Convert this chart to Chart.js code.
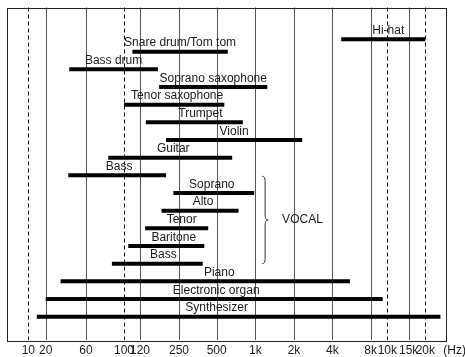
<!DOCTYPE html>
<html>
<head>
<meta charset="utf-8">
<script src="https://cdn.jsdelivr.net/npm/chart.js@4/dist/chart.umd.min.js"></script>
<style>
html, body { margin: 0; padding: 0; background: #fff; }
</style>
</head>
<body>
<canvas id="c" width="465" height="357"></canvas>
<script>
// data: frequency range of each instrument, in Hz
const instruments = [
    "Hi-hat", "Snare drum/Tom tom", "Bass drum", "Soprano saxophone", "Tenor saxophone",
    "Trumpet", "Violin", "Guitar", "Bass", "Soprano", "Alto", "Tenor", "Baritone", "Bass",
    "Piano", "Electronic organ", "Synthesizer"
];
const lowHz  = [4700, 110, 38, 172, 100, 134, 196, 81, 37, 225, 180, 132, 105, 85, 30, 20, 14];
const highHz = [20000, 610, 168, 1240, 573, 800, 2320, 660, 196, 980, 740, 428, 398, 387, 5500, 9400, 26000];
const vocalParts = ["Soprano", "Alto", "Tenor", "Baritone", "Bass"];
const tickHz = [10, 20, 60, 100, 120, 250, 500, 1000, 2000, 4000, 8000, 10000, 15000, 20000];
const tickLabels = ["10", "20", "60", "100", "120", "250", "500", "1k", "2k", "4k", "8k", "10k", "15k", "20k"];
const dashedHz = [10, 100, 10000, 20000];

// layout: the axis is not a true log scale, each tick has its own slot
const tickPos = [21, 38.4, 78.7, 116.7, 132.7, 171.7, 209.4, 248, 286.7, 325, 363.4, 380, 401.4, 418];
const AXIS_MAX = 439.4;
const rowY = instruments.map((n, i) => i === 0 ? 0.3 : i);
const labelShift = [5, 0, 0, 0, 3, 6, 0, 3, 2, -2, 3, 5, 7.5, 6, 14, 2, -22];
const FAMILY = "'Liberation Sans', Arial, Helvetica, sans-serif";
const FONT = "12px " + FAMILY;

// frequency -> axis position, log interpolation between neighbouring ticks
function hzToPos(hz) {
    let i = 0;
    while (i < tickHz.length - 2 && hz > tickHz[i + 1]) i++;
    const f1 = tickHz[i], f2 = tickHz[i + 1];
    const t = Math.log(hz / f1) / Math.log(f2 / f1);
    return tickPos[i] + t * (tickPos[i + 1] - tickPos[i]);
}

const datasets = instruments.map((name, i) => ({
    label: name,
    data: [
        { x: hzToPos(lowHz[i]), y: rowY[i] },
        { x: hzToPos(highHz[i]), y: rowY[i] }
    ],
    borderColor: "#000",
    borderWidth: 4,
    borderCapStyle: "butt",
    pointRadius: 0,
    fill: false
}));

const gridPlugin = {
    id: "grid",
    beforeDatasetsDraw(chart) {
        const ctx = chart.ctx;
        const area = chart.chartArea;
        const xs = chart.scales.x;
        ctx.save();
        tickHz.forEach((hz, i) => {
            const x = Math.round(xs.getPixelForValue(tickPos[i])) + 0.5;
            const dashed = dashedHz.includes(hz);
            ctx.beginPath();
            ctx.setLineDash(dashed ? [4, 3] : []);
            ctx.strokeStyle = dashed ? "#111" : "#555";
            ctx.lineWidth = 1;
            ctx.moveTo(x, area.top);
            ctx.lineTo(x, area.bottom);
            ctx.stroke();
        });
        ctx.setLineDash([]);
        ctx.strokeStyle = "#222";
        ctx.strokeRect(Math.round(area.left) + 0.5, Math.round(area.top) + 0.5,
            Math.round(area.right - area.left), Math.round(area.bottom - area.top));
        ctx.restore();
    },
    afterDatasetsDraw(chart) {
        const ctx = chart.ctx;
        const xs = chart.scales.x;
        const ys = chart.scales.y;
        ctx.save();
        ctx.font = FONT;
        ctx.fillStyle = "#1a1a1a";
        ctx.textAlign = "center";
        ctx.textBaseline = "alphabetic";
        instruments.forEach((name, i) => {
            const x1 = xs.getPixelForValue(hzToPos(lowHz[i]));
            const x2 = xs.getPixelForValue(hzToPos(highHz[i]));
            const y = ys.getPixelForValue(rowY[i]);
            ctx.fillText(name, (x1 + x2) / 2 + labelShift[i], y - 5.5);
        });

        // brace grouping the vocal parts
        const first = instruments.indexOf(vocalParts[0]);
        const last = instruments.lastIndexOf(vocalParts[vocalParts.length - 1]);
        const top = ys.getPixelForValue(rowY[first] - 0.95);
        const bottom = ys.getPixelForValue(rowY[last]);
        const mid = (top + bottom) / 2;
        const bx = xs.getPixelForValue(hzToPos(1130));
        ctx.beginPath();
        ctx.strokeStyle = "#333";
        ctx.lineWidth = 1;
        ctx.moveTo(bx, top);
        ctx.quadraticCurveTo(bx + 3, top, bx + 3, top + 5);
        ctx.lineTo(bx + 3, mid - 5);
        ctx.quadraticCurveTo(bx + 3, mid, bx + 6, mid);
        ctx.quadraticCurveTo(bx + 3, mid, bx + 3, mid + 5);
        ctx.lineTo(bx + 3, bottom - 5);
        ctx.quadraticCurveTo(bx + 3, bottom, bx, bottom);
        ctx.stroke();
        ctx.textAlign = "left";
        ctx.textBaseline = "middle";
        ctx.fillText("VOCAL", bx + 20, mid);

        // unit after the last tick label
        const lastX = xs.getPixelForValue(tickPos[tickPos.length - 1]);
        ctx.fillText("(Hz)", lastX + 18, chart.chartArea.bottom + 11);
        ctx.restore();
    }
};

new Chart(document.getElementById("c"), {
    type: "line",
    data: { datasets: datasets },
    options: {
        responsive: false,
        animation: false,
        layout: { padding: { left: 7.3, right: 18.3, top: 7.5, bottom: 0 } },
        plugins: { legend: { display: false }, tooltip: { enabled: false } },
        scales: {
            x: {
                type: "linear",
                min: 0,
                max: AXIS_MAX,
                afterBuildTicks: (scale) => {
                    scale.ticks = tickPos.map((v) => ({ value: v }));
                },
                afterFit: (scale) => {
                    scale.height = 17;
                },
                ticks: {
                    autoSkip: false,
                    maxRotation: 0,
                    padding: 5,
                    color: "#1a1a1a",
                    font: { family: FAMILY, size: 12, lineHeight: 1 },
                    callback: (v, i) => tickLabels[i]
                },
                grid: { display: false, drawTicks: false },
                border: { display: false }
            },
            y: {
                type: "linear",
                reverse: true,
                min: -1.5,
                max: 17.32,
                display: false
            }
        }
    },
    plugins: [gridPlugin]
});
</script>
</body>
</html>
